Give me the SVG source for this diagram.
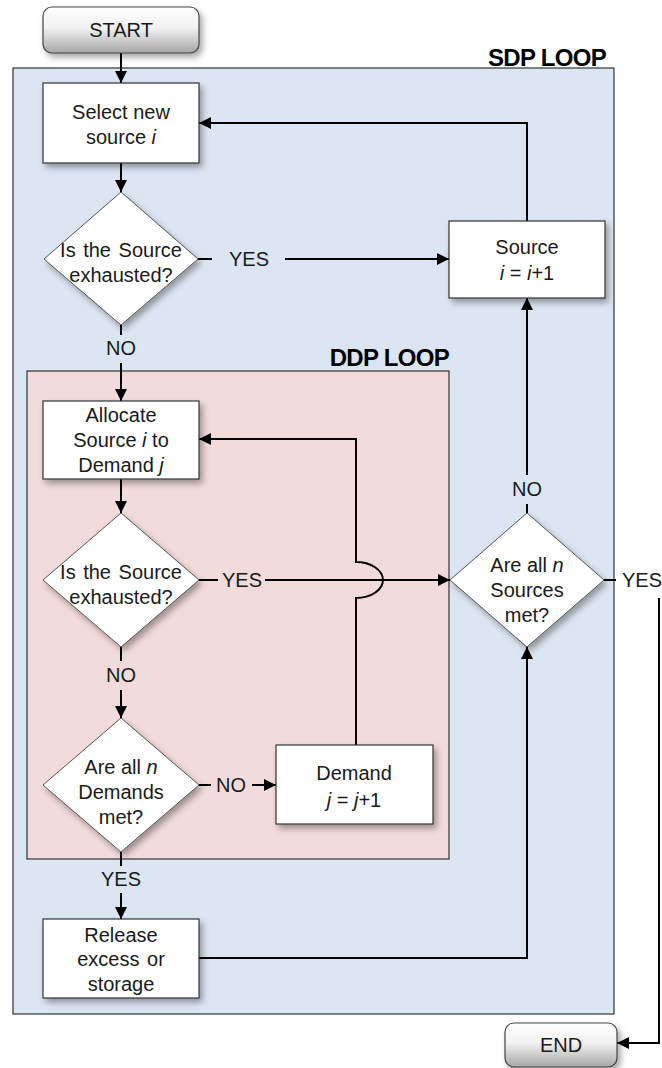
<svg xmlns="http://www.w3.org/2000/svg" width="662" height="1068" viewBox="0 0 662 1068">
<style>
text{font-family:"Liberation Sans",Arial,sans-serif;font-size:20px;fill:#1a1a1a;text-anchor:middle}
.lbl{font-weight:bold;font-size:24px;fill:#000;letter-spacing:-0.7px;text-anchor:end}
.box{fill:#fff;stroke:#333;stroke-width:1.2}
.dia{fill:#fff;stroke:#555;stroke-width:1}
.term{fill:url(#tg);stroke:#444;stroke-width:1.2}
.ln{fill:none;stroke:#000;stroke-width:2}
.ar{marker-end:url(#ah)}
.it{font-style:italic}
.ws{word-spacing:2px}
</style>
<defs>
<linearGradient id="tg" x1="0" y1="0" x2="0" y2="1">
<stop offset="0" stop-color="#ffffff"/>
<stop offset="0.45" stop-color="#f2f2f2"/>
<stop offset="1" stop-color="#a6a6a6"/>
</linearGradient>
<filter id="sh" x="-20%" y="-20%" width="140%" height="150%">
<feDropShadow dx="3" dy="4" stdDeviation="3" flood-color="#000" flood-opacity="0.35"/>
</filter>
<marker id="ah" viewBox="0 0 10 10" refX="10" refY="5" markerWidth="12" markerHeight="12" markerUnits="userSpaceOnUse" orient="auto">
<path d="M0,0 L10,5 L0,10 z" fill="#000"/>
</marker>
</defs>
<rect width="662" height="1068" fill="#fff"/>
<g id="sdp-loop">
<rect x="13" y="68" width="601" height="946" fill="#dce6f2" stroke="#333" stroke-width="1.2"/>
<text class="lbl" x="606" y="66">SDP LOOP</text>
</g>
<g id="ddp-loop">
<rect x="27" y="371" width="422" height="488" fill="#f2dcdb" stroke="#333" stroke-width="1.2"/>
<text class="lbl" x="449" y="366">DDP LOOP</text>
</g>
<g id="connectors">
<path class="ln ar" d="M121,53 V83"/>
<path class="ln ar" d="M121,163 V192"/>
<path class="ln" d="M198,259 H212"/>
<path class="ln ar" d="M285,259 H449"/>
<path class="ln ar" d="M527,221 V123 H199"/>
<path class="ln" d="M121,325 V335"/>
<path class="ln ar" d="M121,363 V401"/>
<path class="ln ar" d="M121,479 V513"/>
<path class="ln" d="M199,580 H218"/>
<path class="ln ar" d="M265,580 H450"/>
<path class="ln" d="M121,647 V661"/>
<path class="ln ar" d="M121,690 V718"/>
<path class="ln" d="M199,785 H211"/>
<path class="ln ar" d="M252,785 H276"/>
<path class="ln ar" d="M356,745 V598 A27 18 0 0 0 356,562 V439 H199"/>
<path class="ln" d="M121,852 V866"/>
<path class="ln ar" d="M121,893 V919"/>
<path class="ln ar" d="M199,958 H527 V647"/>
<path class="ln" d="M527,513 V504"/>
<path class="ln ar" d="M527,475 V298"/>
<path class="ln" d="M604,580 H616"/>
<path class="ln ar" d="M659,598 V1043 H617"/>
<text x="249" y="266">YES</text>
<text x="121" y="355">NO</text>
<text x="242" y="587">YES</text>
<text x="121" y="682">NO</text>
<text x="231" y="792">NO</text>
<text x="121" y="886">YES</text>
<text x="527" y="496">NO</text>
<text x="642" y="587">YES</text>
</g>
<g id="start">
<rect class="term" x="43" y="7" width="156" height="46" rx="9" filter="url(#sh)"/>
<text x="121" y="37">START</text>
</g>
<g id="select-source">
<rect class="box" x="43" y="83" width="156" height="80" filter="url(#sh)"/>
<text x="121" y="119">Select new</text>
<text x="121" y="144">source <tspan class="it">i</tspan></text>
</g>
<g id="source-exhausted-1">
<polygon class="dia" points="121,192 198,259 121,325 44,259" filter="url(#sh)"/>
<text class="ws" x="121" y="257">Is the Source</text>
<text x="121" y="282">exhausted?</text>
</g>
<g id="source-increment">
<rect class="box" x="449" y="221" width="156" height="77" filter="url(#sh)"/>
<text x="527" y="254">Source</text>
<text x="527" y="280"><tspan class="it">i</tspan> = <tspan class="it">i</tspan>+1</text>
</g>
<g id="allocate">
<rect class="box" x="43" y="401" width="156" height="78" filter="url(#sh)"/>
<text x="121" y="422">Allocate</text>
<text x="121" y="447">Source <tspan class="it">i</tspan> to</text>
<text x="121" y="472">Demand <tspan class="it">j</tspan></text>
</g>
<g id="source-exhausted-2">
<polygon class="dia" points="121,513 199,580 121,647 43,580" filter="url(#sh)"/>
<text class="ws" x="121" y="579">Is the Source</text>
<text x="121" y="604">exhausted?</text>
</g>
<g id="sources-met">
<polygon class="dia" points="527,513 604,580 527,647 450,580" filter="url(#sh)"/>
<text x="527" y="572">Are all <tspan class="it">n</tspan></text>
<text x="527" y="597">Sources</text>
<text x="527" y="622">met?</text>
</g>
<g id="demands-met">
<polygon class="dia" points="121,718 199,785 121,852 43,785" filter="url(#sh)"/>
<text x="121" y="774">Are all <tspan class="it">n</tspan></text>
<text x="121" y="799">Demands</text>
<text x="121" y="824">met?</text>
</g>
<g id="demand-increment">
<rect class="box" x="276" y="745" width="157" height="79" filter="url(#sh)"/>
<text x="354" y="780">Demand</text>
<text x="354" y="807"><tspan class="it">j</tspan> = <tspan class="it">j</tspan>+1</text>
</g>
<g id="release">
<rect class="box" x="43" y="919" width="156" height="79" filter="url(#sh)"/>
<text x="121" y="942">Release</text>
<text class="ws" x="121" y="966">excess or</text>
<text x="121" y="991">storage</text>
</g>
<g id="end">
<rect class="term" x="505" y="1023" width="112" height="44" rx="9" filter="url(#sh)"/>
<text x="561" y="1052">END</text>
</g>
</svg>
